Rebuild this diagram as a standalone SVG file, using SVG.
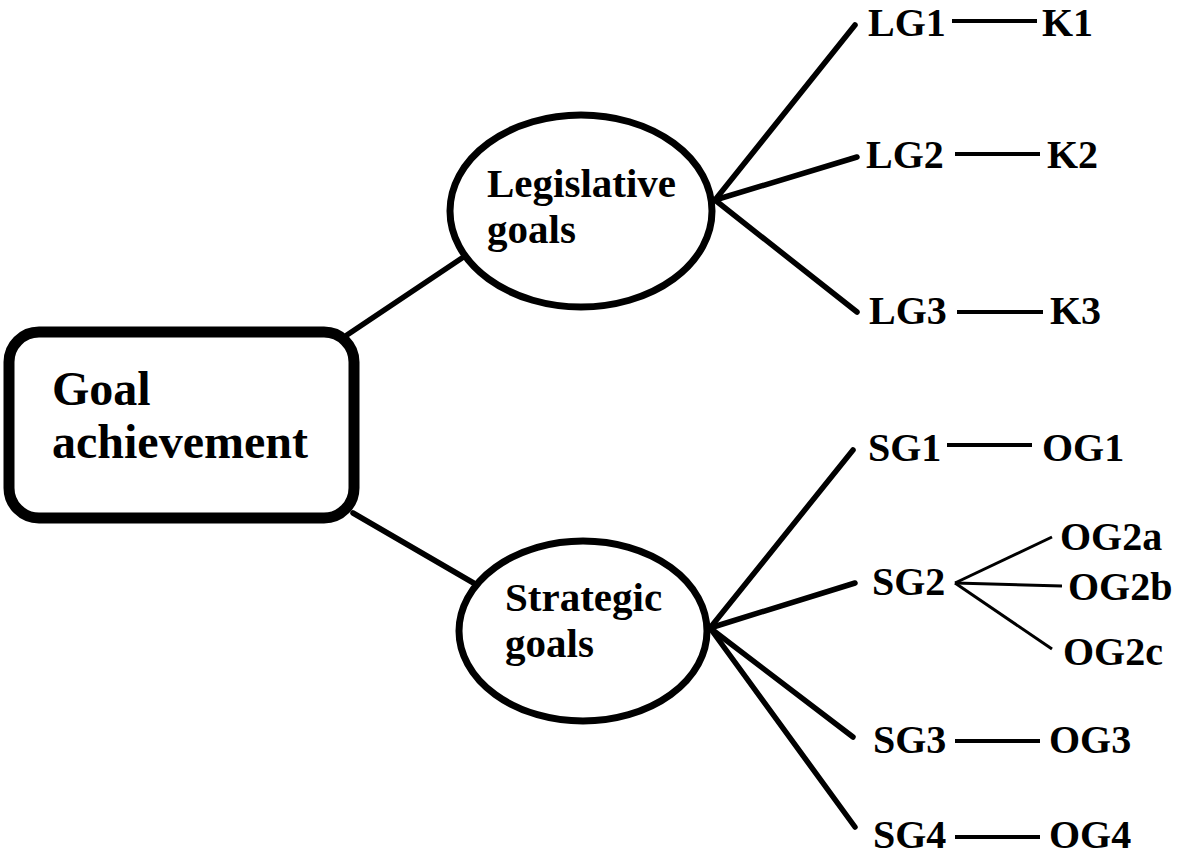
<svg xmlns="http://www.w3.org/2000/svg" width="1177" height="855" viewBox="0 0 1177 855">
<style>
text{font-family:"Liberation Serif","Times New Roman",serif;font-weight:bold;fill:#000}
.lbl{font-size:40px}
.el{font-size:41px}
.big{font-size:48px}
.c{stroke:#000;stroke-width:5.5;stroke-linecap:round;fill:none}
.t{stroke:#000;stroke-width:4;fill:none}
.f{stroke:#000;stroke-width:3;fill:none}
.shape{fill:#fff;stroke:#000}
</style>
<rect width="1177" height="855" fill="#fff"/>
<g id="connectors">
<line class="c" x1="347" y1="335" x2="462" y2="258"/>
<line class="c" x1="353" y1="513" x2="477" y2="585"/>
<line class="c" x1="715" y1="200" x2="855" y2="25"/>
<line class="c" x1="715" y1="200" x2="857" y2="157"/>
<line class="c" x1="715" y1="200" x2="857" y2="312"/>
<line class="c" x1="710" y1="628" x2="853" y2="450"/>
<line class="c" x1="710" y1="628" x2="855" y2="583"/>
<line class="c" x1="710" y1="628" x2="853" y2="737"/>
<line class="c" x1="710" y1="628" x2="855" y2="827"/>
<line class="t" x1="952" y1="21" x2="1037" y2="21"/>
<line class="t" x1="955" y1="154" x2="1040" y2="154"/>
<line class="t" x1="957" y1="312" x2="1043" y2="312"/>
<line class="t" x1="947" y1="445" x2="1032" y2="445"/>
<line class="t" x1="955" y1="741" x2="1040" y2="741"/>
<line class="t" x1="955" y1="837" x2="1040" y2="837"/>
<line class="f" x1="955" y1="583" x2="1052" y2="537"/>
<line class="f" x1="955" y1="583" x2="1062" y2="586"/>
<line class="f" x1="955" y1="583" x2="1052" y2="649"/>
</g>
<g id="goal-achievement">
<rect class="shape" x="9" y="332" width="345" height="186" rx="30" stroke-width="11"/>
<text class="big" x="52" y="405">Goal</text>
<text class="big" x="52" y="458">achievement</text>
</g>
<g id="legislative-goals">
<ellipse class="shape" cx="581" cy="211" rx="131" ry="96" stroke-width="7"/>
<text class="el" x="487" y="197">Legislative</text>
<text class="el" x="487" y="243">goals</text>
</g>
<g id="strategic-goals">
<ellipse class="shape" cx="583" cy="631" rx="124" ry="90" stroke-width="7"/>
<text class="el" x="505" y="611">Strategic</text>
<text class="el" x="505" y="657">goals</text>
</g>
<g id="LG1"><text class="lbl" x="868" y="36">LG1</text></g>
<g id="K1"><text class="lbl" x="1042" y="36">K1</text></g>
<g id="LG2"><text class="lbl" x="866" y="168">LG2</text></g>
<g id="K2"><text class="lbl" x="1047" y="168">K2</text></g>
<g id="LG3"><text class="lbl" x="869" y="324">LG3</text></g>
<g id="K3"><text class="lbl" x="1050" y="324">K3</text></g>
<g id="SG1"><text class="lbl" x="868" y="461">SG1</text></g>
<g id="OG1"><text class="lbl" x="1042" y="461">OG1</text></g>
<g id="SG2"><text class="lbl" x="872" y="595">SG2</text></g>
<g id="OG2a"><text class="lbl" x="1060" y="550">OG2a</text></g>
<g id="OG2b"><text class="lbl" x="1068" y="600">OG2b</text></g>
<g id="OG2c"><text class="lbl" x="1063" y="665">OG2c</text></g>
<g id="SG3"><text class="lbl" x="873" y="753">SG3</text></g>
<g id="OG3"><text class="lbl" x="1049" y="753">OG3</text></g>
<g id="SG4"><text class="lbl" x="873" y="848">SG4</text></g>
<g id="OG4"><text class="lbl" x="1049" y="848">OG4</text></g>
</svg>
